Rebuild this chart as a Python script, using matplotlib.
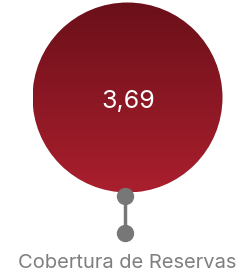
import matplotlib
matplotlib.use("Agg")
import matplotlib.pyplot as plt
import numpy as np
from matplotlib.patches import Circle
from matplotlib.colors import LinearSegmentedColormap

# data
metric_label = "Cobertura de Reservas"
metric_value = 3.69
value_text = f"{metric_value:.2f}".replace(".", ",")

W, H = 245, 275
fig = plt.figure(figsize=(W / 100, H / 100), dpi=100)
ax = fig.add_axes([0, 0, 1, 1])
ax.set_xlim(0, W)
ax.set_ylim(H, 0)
ax.axis("off")

cx, cy, r = 127.5, 97.5, 95
cmap = LinearSegmentedColormap.from_list("g", ["#6a1019", "#aa1f2e"])
grad = np.linspace(0, 1, 256).reshape(-1, 1)
im = ax.imshow(grad, cmap=cmap, extent=(cx - r, cx + r, cy + r, cy - r),
               aspect="auto", interpolation="bilinear", zorder=1)
circ = Circle((cx, cy), r, transform=ax.transData, facecolor="none", edgecolor="none")
ax.add_patch(circ)
im.set_clip_path(circ)

ax.text(cx + 1, cy + 4, value_text, color="white", fontsize=18, family="Inter",
        ha="center", va="center", zorder=3)

grey = "#777777"
ax.plot([125, 125], [196, 233], color=grey, lw=2.5, zorder=2, solid_capstyle="butt")
ax.plot([125, 125], [196, 233], "o", color=grey, ms=11.5, zorder=3)

ax.text(127, 263, metric_label, color="#7f7f7f", fontsize=14.5, family="Inter",
        ha="center", va="center")

fig.savefig("out.png", dpi=100)
